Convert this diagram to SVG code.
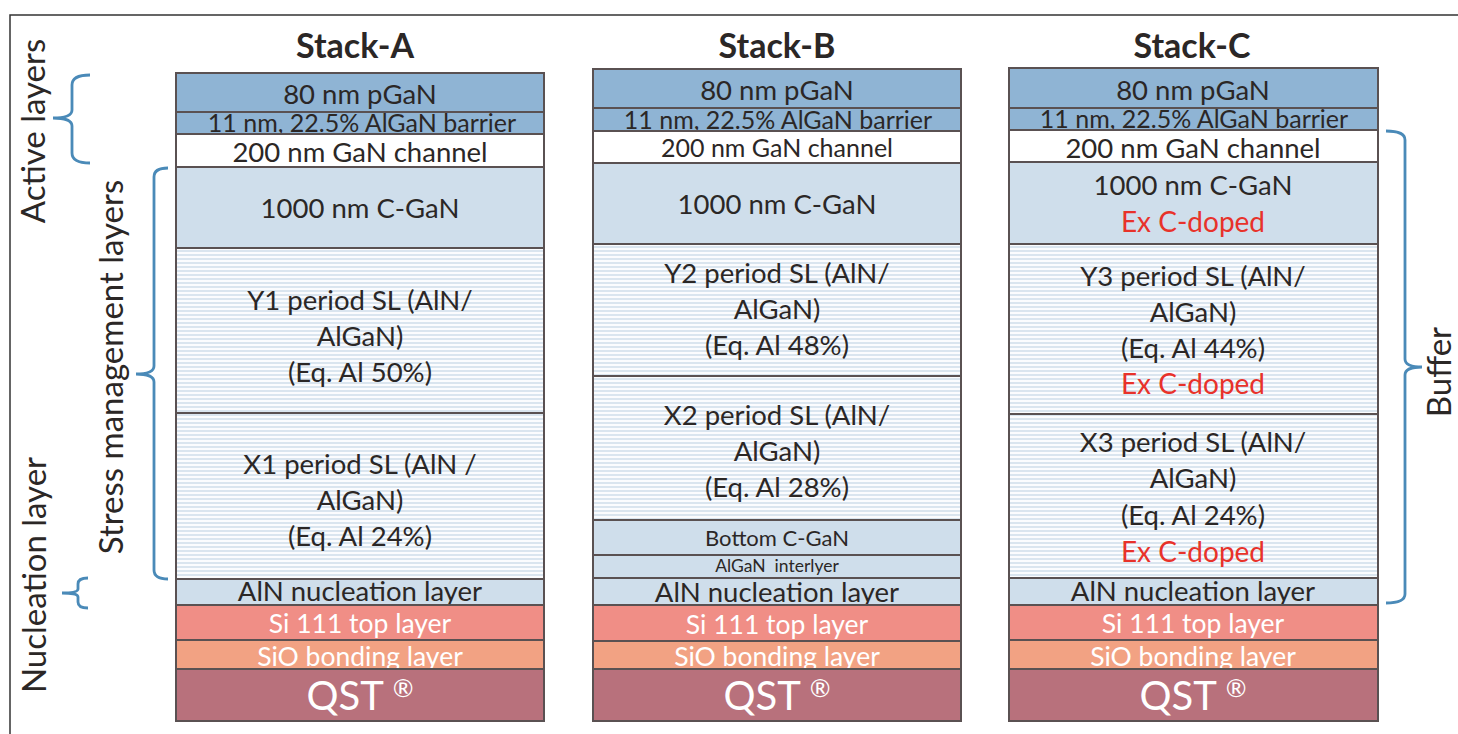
<svg xmlns="http://www.w3.org/2000/svg" width="1458" height="734" viewBox="0 0 1458 734">
<defs>
<pattern id="sl" width="8" height="4" patternUnits="userSpaceOnUse">
<rect width="8" height="4" fill="#fbfcfe"/>
<rect y="2.2" width="8" height="1.6" fill="#d3e0ec"/>
</pattern>
<clipPath id="ca"><rect x="176" y="112" width="368" height="22"/></clipPath>
<clipPath id="cb"><rect x="593" y="108" width="368" height="23"/></clipPath>
<clipPath id="cc"><rect x="1009" y="108" width="369" height="22"/></clipPath>
<style>
.b{stroke:#5a5152;stroke-width:2}
.pg{fill:#8fb4d4}
.wh{fill:#ffffff}
.lb{fill:#cfdeeb}
.sl{fill:url(#sl)}
.si{fill:#f08e86}
.so{fill:#f2a283}
.qs{fill:#b8717c}
text{font-family:Lato,"Liberation Sans",sans-serif;text-anchor:middle;fill:#2b2726}
.t{font-size:27.5px}
.br2{font-size:25px}
.w{fill:#ffffff;font-size:26.5px}
.r{fill:#e8322a;font-size:28px}
.h{font-size:34px;font-weight:bold}
.q{font-size:40px;fill:#ffffff}
.lab{font-size:33px}
.br{fill:none;stroke:#4a8ab8;stroke-width:2.8}
</style>
</defs>
<rect width="1458" height="734" fill="#ffffff"/>
<path d="M10 734 V15 H1458" fill="none" stroke="#333" stroke-width="1.5"/>

<g id="left-labels">
<text class="lab" transform="translate(45,131) rotate(-90)">Active layers</text>
<text class="lab" transform="translate(123,367) rotate(-90)">Stress management layers</text>
<text class="lab" transform="translate(46,575) rotate(-90)">Nucleation layer</text>
<text class="lab" transform="translate(1451,372) rotate(-90)">Buffer</text>
</g>

<g id="stack-a">
<text class="h" x="355" y="58">Stack-A</text>
<rect class="pg b" x="176" y="73" width="368" height="39"/>
<text class="t" x="360" y="104">80 nm pGaN</text>
<rect class="pg b" x="176" y="112" width="368" height="22"/>
<text class="br2" x="362" y="132" clip-path="url(#ca)">11 nm, 22.5% AlGaN barrier</text>
<rect class="wh b" x="176" y="134" width="368" height="33"/>
<text class="t" x="360" y="162">200 nm GaN channel</text>
<rect class="lb b" x="176" y="167" width="368" height="81"/>
<text class="t" x="360" y="218">1000 nm C-GaN</text>
<rect class="sl b" x="176" y="248" width="368" height="165"/>
<text class="t" x="360" y="310">Y1 period SL (AlN/</text>
<text class="t" x="360" y="346">AlGaN)</text>
<text class="t" x="360" y="382">(Eq. Al 50%)</text>
<rect class="sl b" x="176" y="413" width="368" height="166"/>
<text class="t" x="360" y="474">X1 period SL (AlN /</text>
<text class="t" x="360" y="510">AlGaN)</text>
<text class="t" x="360" y="546">(Eq. Al 24%)</text>
<rect class="lb b" x="176" y="579" width="368" height="26"/>
<text class="t" x="360" y="601">AlN nucleation layer</text>
<rect class="si b" x="176" y="605" width="368" height="35"/>
<text class="w" x="360" y="633">Si 111 top layer</text>
<rect class="so b" x="176" y="640" width="368" height="29"/>
<text class="w" x="360" y="666">SiO bonding layer</text>
<rect class="qs b" x="176" y="669" width="368" height="52"/>
<text class="q" x="360" y="710">QST <tspan font-size="25" dy="-13">®</tspan></text>
</g>

<g id="stack-b">
<text class="h" x="777" y="58">Stack-B</text>
<rect class="pg b" x="593" y="69" width="368" height="39"/>
<text class="t" x="777" y="100">80 nm pGaN</text>
<rect class="pg b" x="593" y="108" width="368" height="23"/>
<text class="br2" x="778" y="129" clip-path="url(#cb)">11 nm, 22.5% AlGaN barrier</text>
<rect class="wh b" x="593" y="131" width="368" height="32"/>
<text x="777" y="157" font-size="25px">200 nm GaN channel</text>
<rect class="lb b" x="593" y="163" width="368" height="81"/>
<text class="t" x="777" y="214">1000 nm C-GaN</text>
<rect class="sl b" x="593" y="244" width="368" height="132"/>
<text class="t" x="777" y="283">Y2 period SL (AlN/</text>
<text class="t" x="777" y="319">AlGaN)</text>
<text class="t" x="777" y="355">(Eq. Al 48%)</text>
<rect class="sl b" x="593" y="376" width="368" height="144"/>
<text class="t" x="777" y="425">X2 period SL (AlN/</text>
<text class="t" x="777" y="461">AlGaN)</text>
<text class="t" x="777" y="497">(Eq. Al 28%)</text>
<rect class="lb b" x="593" y="520" width="368" height="35"/>
<text x="777" y="546" font-size="22px">Bottom C-GaN</text>
<rect class="lb b" x="593" y="555" width="368" height="23"/>
<text x="777" y="572" font-size="17.5px" xml:space="preserve">AlGaN  interlyer</text>
<rect class="lb b" x="593" y="578" width="368" height="27"/>
<text class="t" x="777" y="602">AlN nucleation layer</text>
<rect class="si b" x="593" y="605" width="368" height="36"/>
<text class="w" x="777" y="634">Si 111 top layer</text>
<rect class="so b" x="593" y="641" width="368" height="28"/>
<text class="w" x="777" y="666">SiO bonding layer</text>
<rect class="qs b" x="593" y="669" width="368" height="52"/>
<text class="q" x="777" y="710">QST <tspan font-size="25" dy="-13">®</tspan></text>
</g>

<g id="stack-c">
<text class="h" x="1192" y="58">Stack-C</text>
<rect class="pg b" x="1009" y="68" width="369" height="40"/>
<text class="t" x="1193" y="100">80 nm pGaN</text>
<rect class="pg b" x="1009" y="108" width="369" height="22"/>
<text class="br2" x="1194" y="128" clip-path="url(#cc)">11 nm, 22.5% AlGaN barrier</text>
<rect class="wh b" x="1009" y="130" width="369" height="32"/>
<text x="1193" y="158" font-size="27.5px">200 nm GaN channel</text>
<rect class="lb b" x="1009" y="162" width="369" height="82"/>
<text class="t" x="1193" y="195">1000 nm C-GaN</text>
<text class="r" x="1193" y="232">Ex C-doped</text>
<rect class="sl b" x="1009" y="244" width="369" height="170"/>
<text class="t" x="1193" y="286">Y3 period SL (AlN/</text>
<text class="t" x="1193" y="322">AlGaN)</text>
<text class="t" x="1193" y="358">(Eq. Al 44%)</text>
<text class="r" x="1193" y="394">Ex C-doped</text>
<rect class="sl b" x="1009" y="414" width="369" height="164"/>
<text class="t" x="1193" y="452">X3 period SL (AlN/</text>
<text class="t" x="1193" y="488">AlGaN)</text>
<text class="t" x="1193" y="525">(Eq. Al 24%)</text>
<text class="r" x="1193" y="562">Ex C-doped</text>
<rect class="lb b" x="1009" y="578" width="369" height="27"/>
<text class="t" x="1193" y="601">AlN nucleation layer</text>
<rect class="si b" x="1009" y="605" width="369" height="35"/>
<text class="w" x="1193" y="633">Si 111 top layer</text>
<rect class="so b" x="1009" y="640" width="369" height="29"/>
<text class="w" x="1193" y="666">SiO bonding layer</text>
<rect class="qs b" x="1009" y="669" width="369" height="52"/>
<text class="q" x="1193" y="710">QST <tspan font-size="25" dy="-13">®</tspan></text>
</g>

<g id="connectors">
<path class="br" d="M90 75 Q72 75 72 85 L72 110 Q72 118 53 118 Q72 118 72 126 L72 153 Q72 163 90 163"/>
<path class="br" d="M168 168 Q154 168 154 177 L154 366 Q154 374 136 374 Q154 374 154 382 L154 570 Q154 579 168 579"/>
<path class="br" d="M88 578 Q78 578 78 584 L78 589 Q78 593 62 593 Q78 593 78 597 L78 602 Q78 608 88 608"/>
<path class="br" d="M1386 131 Q1405 131 1405 140 L1405 359 Q1405 367 1422 367 Q1405 367 1405 375 L1405 594 Q1405 603 1386 603"/>
</g>
</svg>
